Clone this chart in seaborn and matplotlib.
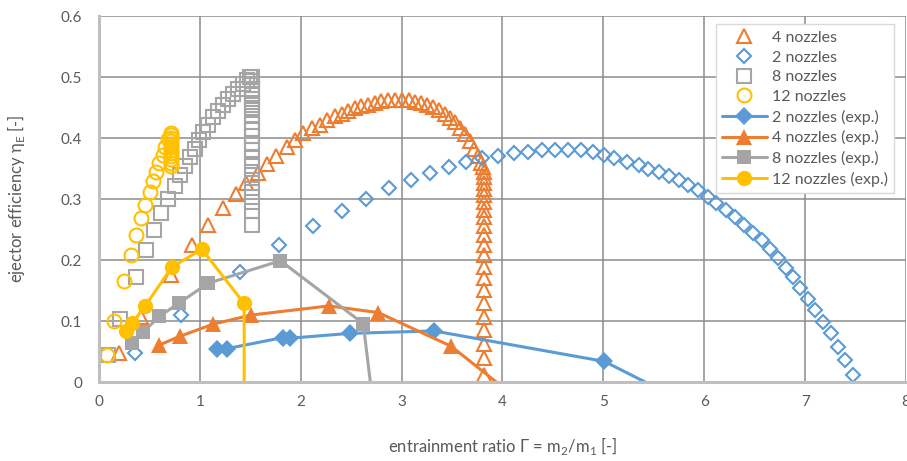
import matplotlib
matplotlib.use("Agg")
import matplotlib.pyplot as plt
import seaborn as sns

# CFD results (open markers)
cfd4_x = [0.20, 0.42, 0.71, 0.92, 1.08, 1.23, 1.36, 1.46, 1.58, 1.67, 1.76, 1.86, 1.94, 2.02,
          2.11, 2.19, 2.26, 2.34, 2.41, 2.47, 2.54, 2.60, 2.67, 2.74, 2.80, 2.87, 2.93, 3.00,
          3.07, 3.13, 3.19, 3.25, 3.31, 3.37, 3.43, 3.48, 3.53, 3.58, 3.63, 3.68, 3.72, 3.76,
          3.79, 3.81,
          3.82, 3.82, 3.82, 3.82, 3.82, 3.82, 3.82, 3.82, 3.82, 3.82, 3.82, 3.82, 3.82, 3.82,
          3.82, 3.82, 3.82, 3.82, 3.82, 3.82, 3.82]
cfd4_y = [0.047, 0.107, 0.175, 0.225, 0.257, 0.286, 0.308, 0.326, 0.343, 0.357, 0.371, 0.386,
          0.397, 0.408, 0.416, 0.422, 0.430, 0.436, 0.440, 0.444, 0.449, 0.452, 0.455, 0.458,
          0.461, 0.462, 0.463, 0.463, 0.462, 0.460, 0.458, 0.455, 0.451, 0.446, 0.440, 0.433,
          0.426, 0.417, 0.407, 0.395, 0.382, 0.370, 0.360, 0.352,
          0.344, 0.336, 0.327, 0.317, 0.306, 0.295, 0.283, 0.270, 0.256, 0.241, 0.225, 0.208,
          0.189, 0.170, 0.151, 0.129, 0.107, 0.085, 0.063, 0.039, 0.011]

cfd2_x = [0.36, 0.81, 1.40, 1.79, 2.12, 2.41, 2.65, 2.88, 3.09, 3.28, 3.47, 3.64, 3.80, 3.96,
          4.11, 4.25, 4.39, 4.52, 4.65, 4.78, 4.90, 5.01, 5.11, 5.23, 5.35, 5.44, 5.55, 5.65,
          5.75, 5.84, 5.94, 6.04, 6.12, 6.22, 6.30, 6.39, 6.48, 6.57, 6.65, 6.73, 6.81, 6.88,
          6.95, 7.03, 7.10, 7.18, 7.26, 7.33, 7.39, 7.47]
cfd2_y = [0.047, 0.110, 0.181, 0.225, 0.256, 0.281, 0.301, 0.319, 0.332, 0.343, 0.352, 0.361,
          0.367, 0.370, 0.375, 0.378, 0.380, 0.380, 0.380, 0.380, 0.378, 0.373, 0.367, 0.361,
          0.356, 0.350, 0.345, 0.338, 0.331, 0.323, 0.315, 0.304, 0.293, 0.282, 0.270, 0.257,
          0.245, 0.233, 0.219, 0.203, 0.187, 0.173, 0.154, 0.136, 0.118, 0.099, 0.080, 0.058,
          0.036, 0.011]

cfd8_x = [0.09, 0.21, 0.37, 0.47, 0.55, 0.62, 0.69, 0.75, 0.80, 0.85, 0.90, 0.95, 0.99, 1.03,
          1.08, 1.13, 1.18, 1.23, 1.28, 1.33, 1.38, 1.43, 1.47, 1.50,
          1.52, 1.52, 1.52, 1.52, 1.52, 1.52, 1.52, 1.52, 1.52, 1.52, 1.52, 1.52, 1.52, 1.52,
          1.52, 1.52, 1.52, 1.52, 1.52, 1.52, 1.52, 1.52]
cfd8_y = [0.044, 0.103, 0.173, 0.216, 0.250, 0.278, 0.301, 0.321, 0.339, 0.354, 0.369, 0.383,
          0.397, 0.410, 0.422, 0.434, 0.445, 0.455, 0.464, 0.473, 0.481, 0.489, 0.495, 0.500,
          0.500, 0.494, 0.487, 0.480, 0.472, 0.464, 0.455, 0.446, 0.436, 0.426, 0.415, 0.404,
          0.392, 0.380, 0.367, 0.354, 0.340, 0.326, 0.311, 0.296, 0.280, 0.257]

cfd12_x = [0.076, 0.15, 0.25, 0.32, 0.37, 0.42, 0.46, 0.51, 0.54, 0.57, 0.60, 0.64, 0.66, 0.69,
           0.71, 0.71, 0.71, 0.71, 0.71, 0.71, 0.71, 0.71, 0.71, 0.71, 0.71, 0.71]
cfd12_y = [0.044, 0.100, 0.166, 0.209, 0.242, 0.269, 0.291, 0.312, 0.330, 0.345, 0.360, 0.372,
           0.386, 0.398, 0.409, 0.405, 0.400, 0.395, 0.390, 0.385, 0.380, 0.375, 0.370, 0.365,
           0.360, 0.355]

# experiments (filled markers + lines); last points lie below the axis and get clipped
exp2_x = [1.17, 1.27, 1.82, 1.89, 2.49, 3.32, 5.01, 5.80]
exp2_y = [0.055, 0.055, 0.073, 0.072, 0.080, 0.084, 0.034, -0.032]
exp4_x = [0.60, 0.80, 1.13, 1.51, 2.28, 2.77, 3.49, 4.20]
exp4_y = [0.061, 0.075, 0.095, 0.110, 0.125, 0.114, 0.059, -0.034]
exp8_x = [0.33, 0.44, 0.60, 0.79, 1.08, 1.80, 2.62, 2.72]
exp8_y = [0.064, 0.082, 0.108, 0.129, 0.162, 0.199, 0.096, -0.040]
exp12_x = [0.27, 0.33, 0.46, 0.72, 1.02, 1.44, 1.44]
exp12_y = [0.084, 0.097, 0.125, 0.188, 0.218, 0.129, -0.050]

x_ticks = [0, 1, 2, 3, 4, 5, 6, 7, 8]
y_ticks = [0, 0.1, 0.2, 0.3, 0.4, 0.5, 0.6]
y_tick_labels = ["0", "0.1", "0.2", "0.3", "0.4", "0.5", "0.6"]

BLUE = "#5B9BD5"
ORANGE = "#ED7D31"
GREY = "#A5A5A5"
YELLOW = "#FFC000"
TEXT = "#595959"

sns.set_style("white")
plt.rcParams["font.family"] = ["Lato", "DejaVu Sans"]

fig = plt.figure(figsize=(9.07, 4.61), dpi=100)
ax = fig.add_axes([0.109, 0.171, 0.890, 0.794])


def open_series(x, y, marker, color, size, label):
    sns.lineplot(x=x, y=y, ax=ax, sort=False, estimator=None, linestyle="none",
                 marker=marker, markersize=size, markerfacecolor="none",
                 markeredgecolor=color, markeredgewidth=1.5, color=color, label=label)


def exp_series(x, y, marker, color, size, label):
    sns.lineplot(x=x, y=y, ax=ax, sort=False, estimator=None, color=color, linewidth=2.2,
                 marker=marker, markersize=size, markerfacecolor=color,
                 markeredgecolor=color, markeredgewidth=0, label=label)


open_series(cfd4_x, cfd4_y, "^", ORANGE, 9.5, "4 nozzles")
open_series(cfd2_x, cfd2_y, "D", BLUE, 7.5, "2 nozzles")
open_series(cfd8_x, cfd8_y, "s", GREY, 9.5, "8 nozzles")
open_series(cfd12_x, cfd12_y, "o", YELLOW, 10, "12 nozzles")
exp_series(exp2_x, exp2_y, "D", BLUE, 9, "2 nozzles (exp.)")
exp_series(exp4_x, exp4_y, "^", ORANGE, 11, "4 nozzles (exp.)")
exp_series(exp8_x, exp8_y, "s", GREY, 10.5, "8 nozzles (exp.)")
exp_series(exp12_x, exp12_y, "o", YELLOW, 11, "12 nozzles (exp.)")

ax.set_xlim(0, 8)
ax.set_ylim(0, 0.6)
ax.set_xticks(x_ticks)
ax.set_yticks(y_ticks)
ax.set_yticklabels(y_tick_labels)
ax.tick_params(length=0, labelsize=11, labelcolor=TEXT)
ax.tick_params(axis="y", pad=12)
ax.tick_params(axis="x", pad=9)

ax.grid(True, color="#8C8C8C", linewidth=1.1)
ax.set_axisbelow(True)
for side in ["top", "right"]:
    ax.spines[side].set_visible(False)
for side in ["left", "bottom"]:
    ax.spines[side].set_color("#BFBFBF")
    ax.spines[side].set_linewidth(2.2)

ax.set_xlabel("entrainment ratio Γ = m$_\\mathregular{2}$/m$_\\mathregular{1}$ [-]",
              fontsize=12, color=TEXT, labelpad=19)
ax.set_ylabel("ejector efficiency η$_\\mathregular{E}$ [-]", fontsize=12, color=TEXT,
              labelpad=24)

leg = ax.legend(loc="upper right", bbox_to_anchor=(0.985, 0.978), borderaxespad=0,
                fontsize=11.5, labelcolor=TEXT, fancybox=False, framealpha=1,
                edgecolor="#D9D9D9", handlelength=2.8, labelspacing=0.35,
                handletextpad=0.3, borderpad=0.4)
leg.get_frame().set_linewidth(1.0)

fig.savefig("out.png", dpi=100)
